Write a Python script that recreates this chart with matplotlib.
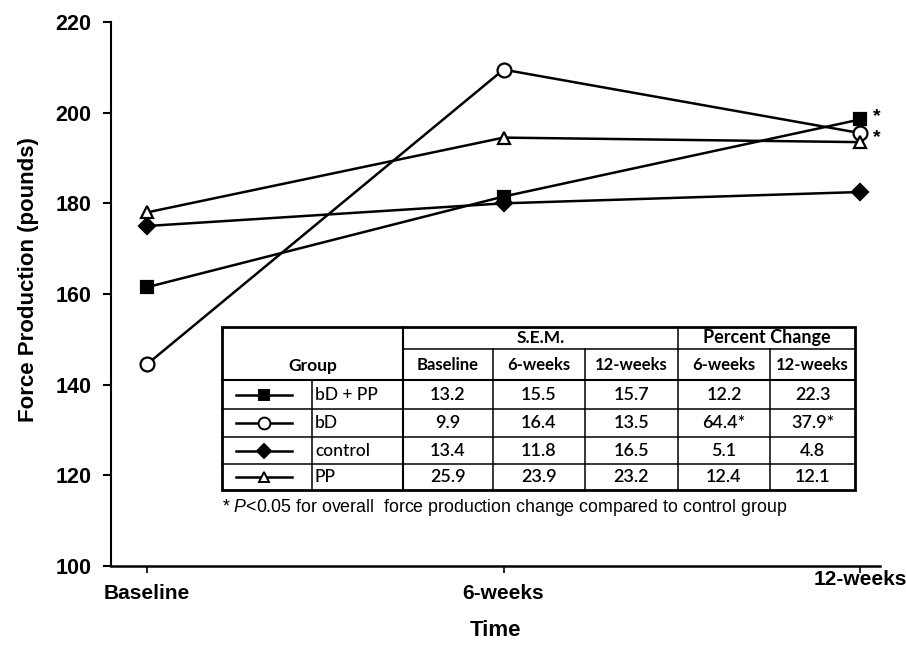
import matplotlib
matplotlib.use("Agg")
import matplotlib.pyplot as plt
import matplotlib.transforms as mtrans
from matplotlib.lines import Line2D
from matplotlib.patches import Rectangle

plt.rcParams['font.family'] = ['Liberation Sans', 'DejaVu Sans']
plt.rcParams['mathtext.fontset'] = 'custom'
plt.rcParams['mathtext.it'] = 'Liberation Sans:italic'
plt.rcParams['mathtext.rm'] = 'Liberation Sans'

# ---------------- data ----------------
time_labels = ["Baseline", "6-weeks", "12-weeks"]
groups = ["bD + PP", "bD", "control", "PP"]
force_bdpp = [161.5, 181.5, 198.5]
force_bd = [144.5, 209.5, 195.5]
force_control = [175.0, 180.0, 182.5]
force_pp = [178.0, 194.5, 193.5]
sig_12wk = ["bD + PP", "bD"]

sem_header = ["Baseline", "6-weeks", "12-weeks"]
pct_header = ["6-weeks", "12-weeks"]
sem_bdpp = ["13.2", "15.5", "15.7"]
sem_bd = ["9.9", "16.4", "13.5"]
sem_control = ["13.4", "11.8", "16.5"]
sem_pp = ["25.9", "23.9", "23.2"]
pct_bdpp = ["12.2", "22.3"]
pct_bd = ["64.4*", "37.9*"]
pct_control = ["5.1", "4.8"]
pct_pp = ["12.4", "12.1"]

yticks = [100, 120, 140, 160, 180, 200, 220]

# ---------------- figure ----------------
W, H = 906, 647
fig = plt.figure(figsize=(W / 100, H / 100), dpi=100)
ax_l, ax_r, ax_t, ax_b = 111, 880, 22, 566
ax = fig.add_axes([ax_l / W, 1 - ax_b / H, (ax_r - ax_l) / W, (ax_b - ax_t) / H])

x = list(range(len(time_labels)))
styles = {
    "bD + PP": dict(marker='s', mfc='black', ms=9),
    "bD": dict(marker='o', mfc='white', ms=10),
    "control": dict(marker='D', mfc='black', ms=8),
    "PP": dict(marker='^', mfc='white', ms=9),
}
series = {"bD + PP": force_bdpp, "bD": force_bd, "control": force_control, "PP": force_pp}
for g in groups:
    ax.plot(x, series[g], color='black', lw=1.8, mec='black', mew=1.6,
            zorder=3, clip_on=False, **styles[g])

star_dy = {"bD + PP": 2, "bD": -3}
for g in sig_12wk:
    ax.annotate("*", (x[2], series[g][2]), xytext=(9, star_dy[g]), textcoords='offset points',
                fontsize=14, fontweight='bold', ha='left', va='center')

ax.set_ylim(100, 220)
ax.set_xlim(-0.101, 2.056)
ax.set_yticks(yticks)
ax.set_yticklabels([str(v) for v in yticks], fontsize=15.5, fontweight='bold')
ax.set_xticks(x)
ax.set_xticklabels(time_labels, fontsize=15, fontweight='bold')
ax.tick_params(axis='y', length=6, width=1.5, pad=8)
ax.tick_params(axis='x', length=5, width=1.2, pad=8)
lab12 = ax.get_xticklabels()[2]
lab12.set_transform(lab12.get_transform() + mtrans.ScaledTranslation(0, 10 / 72, fig.dpi_scale_trans))
for s in ['top', 'right']:
    ax.spines[s].set_visible(False)
ax.spines['left'].set_linewidth(1.5)
ax.spines['bottom'].set_linewidth(1.8)

ax.set_ylabel("Force Production (pounds)", fontsize=16, fontweight='bold')
ax.yaxis.set_label_coords(-0.094, 0.526)
ax.set_xlabel("Time", fontsize=16, fontweight='bold', labelpad=12)

# ---------------- table (pixel layout) ----------------
def fx(px):
    return px / W

def fy(py):
    return 1 - py / H

cols = [222, 312, 403, 493, 585, 678, 770, 855]
rows = [327, 349, 380, 409, 437, 464, 490]

fig.add_artist(Rectangle((fx(cols[0]), fy(rows[-1])), fx(cols[-1]) - fx(cols[0]),
                         fy(rows[0]) - fy(rows[-1]), transform=fig.transFigure,
                         facecolor='white', edgecolor='black', lw=2, zorder=5))

def hline(y, x0, x1, lw=1.1):
    fig.add_artist(Line2D([fx(x0), fx(x1)], [fy(y), fy(y)], transform=fig.transFigure,
                          color='black', lw=lw, zorder=6))

def vline(x0, y0, y1, lw=1.1):
    fig.add_artist(Line2D([fx(x0), fx(x0)], [fy(y0), fy(y1)], transform=fig.transFigure,
                          color='black', lw=lw, zorder=6))

hline(rows[1], cols[2], cols[-1])
hline(rows[2], cols[0], cols[-1], lw=1.5)
for r in rows[3:-1]:
    hline(r, cols[0], cols[-1])
vline(cols[2], rows[0], rows[-1], lw=1.5)
vline(cols[5], rows[0], rows[-1])
for c in [cols[3], cols[4], cols[6]]:
    vline(c, rows[1], rows[-1])
vline(cols[1], rows[2], rows[-1])

tfont = dict(family=['Lato', 'DejaVu Sans'], zorder=7, transform=fig.transFigure, va='center')

def ctext(xpx, ypx, s, size=12.5, weight='bold', ha='center'):
    fig.text(fx(xpx), fy(ypx), s, fontsize=size, fontweight=weight, ha=ha, **tfont)

ctext((cols[2] + cols[5]) / 2, (rows[0] + rows[1]) / 2, "S.E.M.")
ctext((cols[5] + cols[7]) / 2, (rows[0] + rows[1]) / 2, "Percent Change", size=13)
ctext((cols[0] + cols[2]) / 2, (rows[1] + rows[2]) / 2 + 2, "Group")
for i, h in enumerate(sem_header):
    ctext((cols[2 + i] + cols[3 + i]) / 2, (rows[1] + rows[2]) / 2, h, size=12)
for i, h in enumerate(pct_header):
    ctext((cols[5 + i] + cols[6 + i]) / 2, (rows[1] + rows[2]) / 2, h, size=12)

sems = [sem_bdpp, sem_bd, sem_control, sem_pp]
pcts = [pct_bdpp, pct_bd, pct_control, pct_pp]
for r, g in enumerate(groups):
    yc = (rows[2 + r] + rows[3 + r]) / 2
    icx = (cols[0] + cols[1]) / 2 - 3
    st = dict(styles[g])
    st['ms'] = st['ms'] * 0.85
    fig.add_artist(Line2D([fx(icx - 28), fx(icx), fx(icx + 28)], [fy(yc)] * 3,
                          transform=fig.transFigure, color='black', lw=1.8, mec='black',
                          mew=1.4, markevery=[1], zorder=7, **st))
    ctext(cols[1] + 3, yc, g, size=12.5, weight='medium', ha='left')
    for i, v in enumerate(sems[r]):
        ctext((cols[2 + i] + cols[3 + i]) / 2, yc, v, size=13, weight='semibold')
    for i, v in enumerate(pcts[r]):
        ctext((cols[5 + i] + cols[6 + i]) / 2, yc, v, size=13, weight='semibold')

fig.text(fx(222), fy(507), r"* $\it{P}$<0.05 for overall  force production change compared to control group",
         fontsize=12.8, va='center', ha='left', transform=fig.transFigure, zorder=7)

fig.savefig("out.png", dpi=100)
